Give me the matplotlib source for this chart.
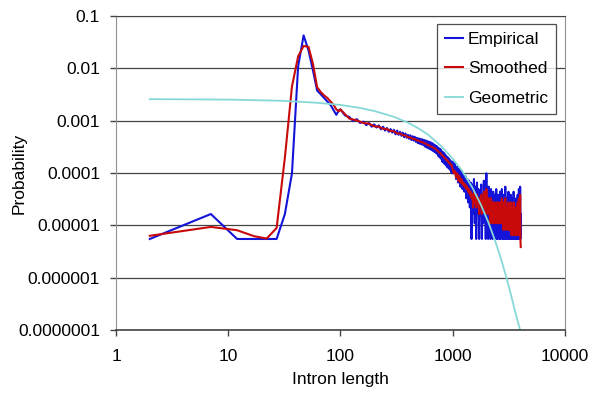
import matplotlib.pyplot as plt
import numpy as np

plt.rcParams['font.family'] = ['Liberation Sans', 'DejaVu Sans']

# probability of a single intron (lowest non-zero value on the plot)
one_count = 5.5e-6

# intron lengths below 100, bins of width 5
short_len = [2, 7, 12, 17, 22, 27, 32, 37, 42, 47, 52, 57, 62, 67, 72, 77, 82, 87, 92, 97]
emp_short = [1, 3, 1, 1, 1, 1, 3, 18, 2000, 7800, 4000, 1650, 690, 580, 490, 420, 360, 290, 236, 290]
smo_short = [1.15, 1.7, 1.47, 1.13, 1.02, 1.62, 36, 820, 3100, 4900, 4700, 2200, 800, 640, 550, 490,
             420, 365, 300, 275]

# lengths 100..990 (empirical every 10, smoothed every 20)
emp_mid = [300, 230, 215, 180, 195, 165, 175, 150, 165, 140, 155, 135, 148, 125, 140, 118, 132, 112,
           126, 108, 122, 100, 118, 98, 112, 94, 108, 88, 104, 86, 98, 82, 96, 78, 92, 76, 90, 72,
           86, 68, 84, 66, 82, 64, 80, 62, 78, 58, 76, 56, 74, 54, 72, 52, 70, 50, 68, 48, 64, 46,
           62, 44, 60, 42, 56, 38, 54, 36, 52, 34, 48, 30, 46, 29, 44, 27, 41, 26, 38, 24, 37, 23,
           35, 22, 33, 21, 31, 19, 30, 18]
smo_mid = [300, 200, 185, 165, 160, 142, 140, 128, 126, 116, 114, 104, 104, 96, 96, 88, 88, 82, 82,
           76, 76, 72, 71, 67, 67, 62, 62, 58, 58, 54, 54, 50, 48, 45, 44, 40, 39, 36, 35, 32, 32,
           29, 29, 26, 26]

# lengths 1000..4050, every 25
emp_tail = [30, 18, 28, 14, 24, 12, 22, 10, 20, 9, 17, 8, 16, 6, 14, 5, 13, 4, 12,
            1, 11, 3, 14, 2, 10, 1, 12, 3, 9, 1, 8, 4, 11, 1, 7, 2, 13, 3, 9, 1, 18, 2, 8, 1, 10,
            3, 7, 1, 9, 2, 6, 1, 8, 3, 7, 1, 6, 2, 9, 1, 5,
            1, 7, 2, 6, 1, 8, 1, 5, 2, 9, 1, 4, 1, 7, 2, 6, 1, 10, 1, 5, 2, 6, 1, 4, 1, 8, 2, 5,
            1, 4, 1, 7, 1, 3, 2, 6, 1, 4, 1, 8, 1, 3, 1, 5, 2, 4, 1, 6, 1, 3, 1, 7, 1, 4, 2, 9, 1,
            5, 1, 10, 1, 3]
smo_tail = [22, 18, 20, 15, 18, 13, 16, 12, 14, 11, 12, 10, 11, 9, 10, 8, 9, 7, 8,
            6, 7, 4, 8, 5, 6, 4, 7, 5, 6, 3, 6, 5, 7, 3, 5, 4, 8, 4, 6, 3, 9, 4, 6, 3, 6, 4, 5, 2,
            6, 3, 5, 2, 5, 3, 5, 2, 4, 3, 5, 2, 4,
            2, 5, 3, 4, 2, 5, 2, 4, 3, 6, 2, 3, 1.5, 5, 2, 4, 1.5, 6, 2, 4, 2, 4, 1.5, 3, 1.5, 5,
            2, 4, 1.5, 3, 1.5, 5, 1.2, 3, 2, 4, 1.2, 3, 1.2, 5, 1.2, 2.5, 1.2, 4, 1.5, 3, 1.2, 4,
            1.2, 2.5, 1.2, 5, 1.2, 3, 1.5, 6, 1.2, 4, 1.2, 7, 1, 0.7]

geo_len = [2, 10, 30, 60, 100, 150, 200, 300, 400, 500, 600, 800, 1000, 1200, 1500, 1800, 2100,
           2400, 2700, 3000, 3300, 3600, 4000]
geo_prob = [0.00259, 0.00254, 0.00241, 0.00222, 0.00201, 0.00176, 0.00154, 0.00119, 0.00092,
            0.00071, 0.00055, 0.00032, 0.00019, 0.000115, 5.3e-5, 2.4e-5, 1.1e-5, 5.0e-6,
            2.3e-6, 1.06e-6, 4.9e-7, 2.3e-7, 1.0e-7]

emp_x = np.concatenate([short_len, 100 + 10 * np.arange(len(emp_mid)),
                        1000 + 25 * np.arange(len(emp_tail))])
emp_y = np.concatenate([emp_short, emp_mid, emp_tail]) * one_count
smo_x = np.concatenate([short_len, 100 + 20 * np.arange(len(smo_mid)),
                        1000 + 25 * np.arange(len(smo_tail))])
smo_y = np.concatenate([smo_short, smo_mid, smo_tail]) * one_count

fig = plt.figure(figsize=(5.92, 3.94), dpi=100)
ax = fig.add_axes([0.196, 0.1624, 0.758, 0.7966])

ax.plot(emp_x, emp_y, color='#1414d8', lw=1.5, label='Empirical')
ax.plot(smo_x, smo_y, color='#c80a0a', lw=1.5, label='Smoothed')
ax.plot(geo_len, geo_prob, color='#86d8d8', lw=1.3, label='Geometric')

ax.set_xscale('log')
ax.set_yscale('log')
ax.set_xlim(1, 10000)
ax.set_ylim(1e-7, 0.1)

xt = [1, 10, 100, 1000, 10000]
yt = [1e-7, 1e-6, 1e-5, 1e-4, 1e-3, 1e-2, 1e-1]
ax.set_xticks(xt)
ax.set_xticklabels([str(v) for v in xt])
ax.set_yticks(yt)
ax.set_yticklabels(['0.0000001', '0.000001', '0.00001', '0.0001', '0.001', '0.01', '0.1'])
ax.minorticks_off()
ax.tick_params(axis='both', labelsize=12.5, length=4.5, width=1, color='#444444', pad=7)
ax.tick_params(axis='x', pad=9)
ax.yaxis.grid(True, color='#444444', lw=0.9)
ax.set_axisbelow(True)

for side in ['left', 'right']:
    ax.spines[side].set_color('#909090')
ax.spines['top'].set_color('#444444')
ax.spines['bottom'].set_color('#333333')
ax.spines['bottom'].set_linewidth(1.1)

ax.set_xlabel('Intron length', fontsize=12.5, labelpad=6)
ax.set_ylabel('Probability', fontsize=12.5)
ax.yaxis.set_label_coords(-0.2, 0.5)

leg = ax.legend(loc='upper right', bbox_to_anchor=(0.98, 0.975), fontsize=12.5, frameon=True,
                fancybox=False, edgecolor='#222222', handlelength=1.0, handletextpad=0.3,
                labelspacing=0.82, borderpad=0.45, borderaxespad=0)
leg.get_frame().set_linewidth(0.9)

fig.savefig('out.png', dpi=100)
